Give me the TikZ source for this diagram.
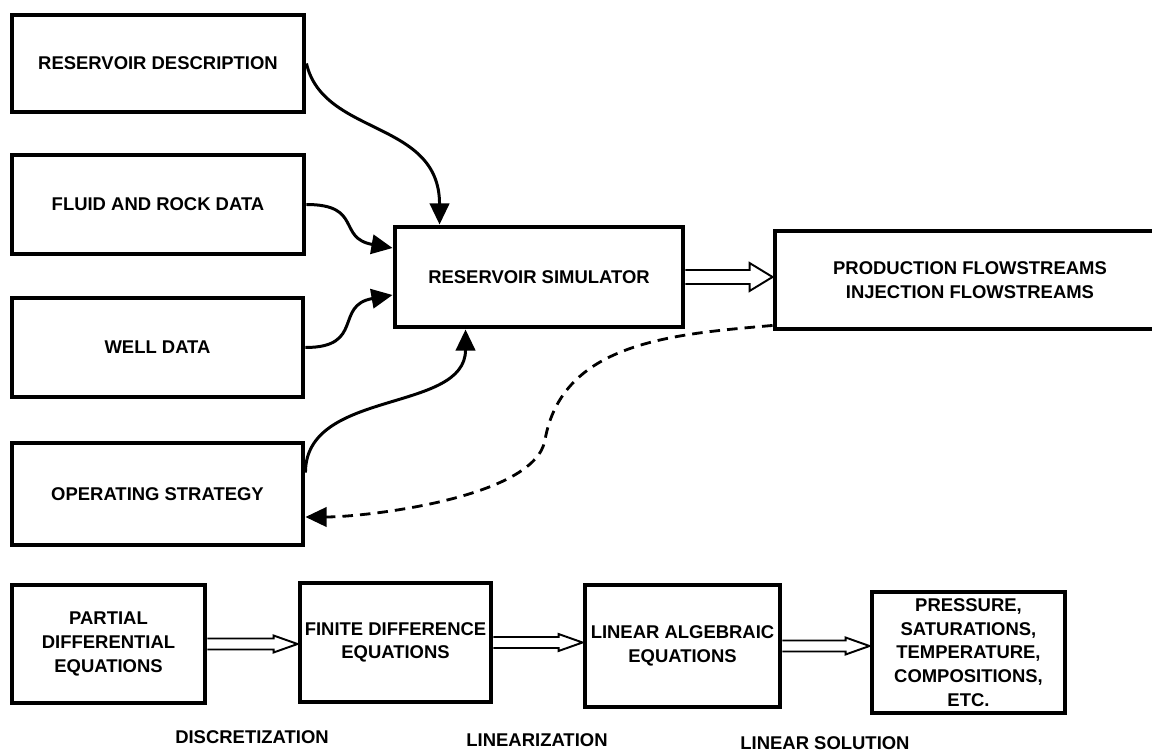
\documentclass[tikz,border=0pt]{standalone}
\usepackage{fontspec}
\setmainfont{Liberation Sans}
\usepackage{tikz}
\usetikzlibrary{arrows.meta}
\usetikzlibrary{calc}

\tikzset{
  box/.style={draw, line width=2.8pt, inner sep=2pt, align=center,
    font=\fontsize{10.5}{13.5}\selectfont\bfseries},
  feed/.style={line width=1.7pt, -{Triangle[length=12pt,width=11pt]}},
  fatline/.style={line width=1.1pt, fill=white, line join=miter},
  steplabel/.style={font=\fontsize{10.5}{13.5}\selectfont\bfseries}
}

% hollow arrow: from node, to node, shaft half width, head half width, head length
\newcommand{\fatarrow}[5]{%
  \draw[fatline] ($(#1.east)+(0,#3)$) -- ($(#2.west |- #1.east)+(-#5,#3)$)
    -- ($(#2.west |- #1.east)+(-#5,#4)$) -- (#2.west |- #1.east)
    -- ($(#2.west |- #1.east)+(-#5,-#4)$) -- ($(#2.west |- #1.east)+(-#5,-#3)$)
    -- ($(#1.east)+(0,-#3)$);
}

\begin{document}
\begin{tikzpicture}
            \useasboundingbox (0,0) rectangle (23.04,-15.02);

            \node[box, minimum width=5.84cm, minimum height=1.94cm] (desc) at (3.16,-1.27) {RESERVOIR DESCRIPTION};
            \node[box, minimum width=5.84cm, minimum height=1.98cm] (fluid) at (3.16,-4.09) {FLUID AND ROCK DATA};
            \node[box, minimum width=5.82cm, minimum height=1.98cm] (well) at (3.15,-6.95) {WELL DATA};
            \node[box, minimum width=5.82cm, minimum height=2.04cm] (strat) at (3.15,-9.88) {OPERATING STRATEGY};

            \node[box, minimum width=5.76cm, minimum height=2.0cm] (sim) at (10.78,-5.54) {RESERVOIR SIMULATOR};
            \node[box, minimum width=7.8cm, minimum height=1.96cm] (prod) at (19.4,-5.6) {PRODUCTION FLOWSTREAMS\\INJECTION FLOWSTREAMS};

            % inputs to the simulator
            \draw[feed] (desc.east) .. controls +(-77:1.5) and +(0,2.1) .. ([xshift=0.94cm]sim.north west);
            \draw[feed] (fluid.east) to[out=0,in=170,looseness=1.5] ([yshift=0.58cm]sim.west);
            \draw[feed] (well.east) to[out=0,in=190,looseness=1.5] ([yshift=-0.36cm]sim.west);
            \draw[feed] ([yshift=-0.64cm]strat.north east) to[out=90,in=-90] ([xshift=1.46cm]sim.south west);

            \fatarrow{sim}{prod}{0.14}{0.28}{0.46}

            % feedback
            \coordinate (bend) at (10.9,-8.8);
            \draw[line width=1.6pt, dash pattern=on 6pt off 4pt, -{Triangle[length=12pt,width=11pt]}]
                ([yshift=0.12cm]prod.south west) to[out=185,in=80] (bend)
                to[out=-100,in=0,looseness=0.6] ([yshift=-0.46cm]strat.east);

            \node[box, minimum width=3.86cm, minimum height=2.36cm] (pde) at (2.17,-12.88) {PARTIAL\\DIFFERENTIAL\\EQUATIONS};
            \node[box, minimum width=3.82cm, minimum height=2.38cm] (fde) at (7.91,-12.85) {FINITE DIFFERENCE\\EQUATIONS};
            \node[box, minimum width=3.9cm, minimum height=2.44cm] (lae) at (13.65,-12.92) {LINEAR ALGEBRAIC\\EQUATIONS};
            \node[box, minimum width=3.86cm, minimum height=2.42cm] (res) at (19.37,-13.05) {PRESSURE,\\SATURATIONS,\\TEMPERATURE,\\COMPOSITIONS,\\ETC.};

            \fatarrow{pde}{fde}{0.11}{0.17}{0.48}
            \fatarrow{fde}{lae}{0.11}{0.17}{0.48}
            \fatarrow{lae}{res}{0.11}{0.17}{0.48}

            \node[steplabel] (disc) at (5.04,-14.74) {DISCRETIZATION};
            \node[steplabel] (lin) at (10.74,-14.8) {LINEARIZATION};
            \node[steplabel] (sol) at (16.5,-14.86) {LINEAR SOLUTION};
        \end{tikzpicture}
\end{document}
